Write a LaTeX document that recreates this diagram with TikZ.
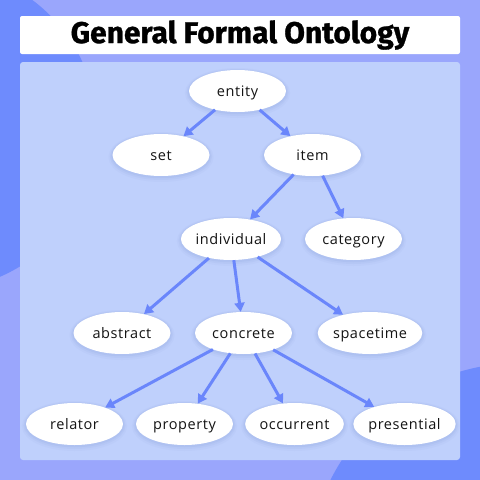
\documentclass[tikz,border=0pt]{standalone}
\usepackage{fontspec}
\setmainfont{Open Sans}
\newfontfamily\titlefont[BoldFeatures={FakeBold=1}]{Fira Sans}
\newfontfamily\labelfont[LetterSpace=4]{Open Sans}
\usetikzlibrary{shapes.geometric,arrows.meta}
\definecolor{bgc}{HTML}{9AA6FC}
\definecolor{darkc}{HTML}{6E8BFD}
\definecolor{panelc}{HTML}{BFD0FC}
\definecolor{arrc}{HTML}{6A86FB}
\definecolor{shadc}{HTML}{8FA3E0}
\definecolor{txtc}{HTML}{141414}
\tikzset{
  onode/.style={ellipse, fill=white, minimum width=97pt, minimum height=42pt, inner sep=0pt,
    text height=13.5pt, text depth=2.5pt, text=txtc,
    font=\labelfont\fontsize{14.5}{16}\selectfont,
    preaction={draw=shadc, line width=8pt, opacity=0.08, transform canvas={yshift=-2pt}},
    preaction={draw=shadc, line width=5pt, opacity=0.12, transform canvas={yshift=-1.5pt}},
    preaction={draw=shadc, line width=2.5pt, opacity=0.16, transform canvas={yshift=-1pt}}},
  conn/.style={draw=arrc, line width=3pt, -{Triangle[length=9pt,width=10pt]}, fill=arrc}
}
\begin{document}
\begin{tikzpicture}[x=1pt,y=-1pt]
\useasboundingbox (0,0) rectangle (480,480);
\begin{scope}
\clip (0,0) rectangle (480,480);
\fill[bgc] (0,0) rectangle (480,480);
\fill[darkc] (-64,129) circle[radius=161];
\fill[darkc] (520,575) circle[radius=212];
\end{scope}
\fill[white, rounded corners=2pt] (20,16) rectangle (460,54);
\node[font=\titlefont\bfseries\fontsize{30}{30}\selectfont] (title) at (240,35) {General Formal Ontology};
\fill[panelc, rounded corners=3pt] (20,62) rectangle (460,460);

\node[onode] (entity) at (237.5,91) {entity};
\node[onode] (set) at (161,155) {set};
\node[onode] (item) at (312.5,155) {item};
\node[onode] (individual) at (231,239) {individual};
\node[onode] (category) at (353.5,239) {category};
\node[onode] (abstract) at (122,333) {abstract};
\node[onode] (concrete) at (243.5,333) {concrete};
\node[onode] (spacetime) at (370,333) {spacetime};
\node[onode] (relator) at (74.5,424) {relator};
\node[onode] (property) at (184.5,424) {property};
\node[onode] (occurrent) at (294.5,424) {occurrent};
\node[onode] (presential) at (404.5,424) {presential};

\draw[conn] (entity) -- (set);
\draw[conn] (entity) -- (item);
\draw[conn] (item) -- (individual);
\draw[conn] (item) -- (category);
\draw[conn] (individual) -- (abstract);
\draw[conn] (individual) -- (concrete);
\draw[conn] (individual) -- (spacetime);
\draw[conn] (concrete) -- (relator);
\draw[conn] (concrete) -- (property);
\draw[conn] (concrete) -- (occurrent);
\draw[conn] (concrete) -- (presential);
\end{tikzpicture}
\end{document}
